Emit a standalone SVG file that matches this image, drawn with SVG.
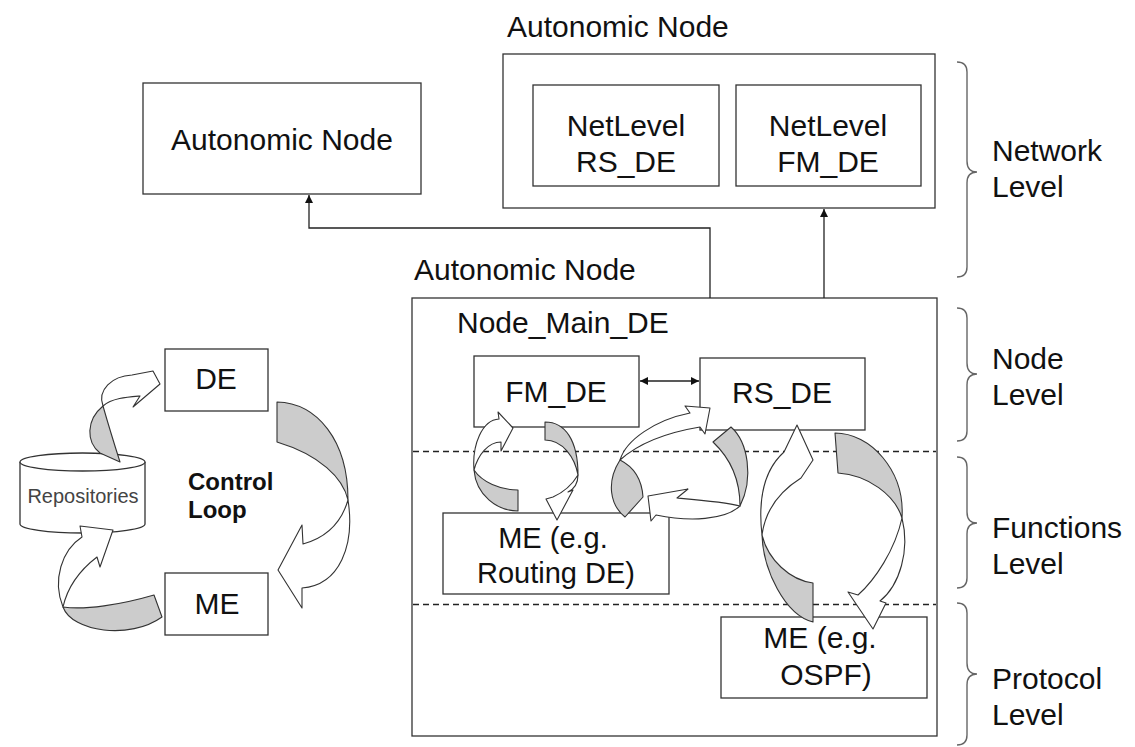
<svg xmlns="http://www.w3.org/2000/svg" width="1135" height="747" viewBox="0 0 1135 747">
<defs>
<style>
.box{fill:#fff;stroke:#333;stroke-width:1.3}
.t{font-family:"Liberation Sans",Arial,sans-serif;font-size:30px;fill:#111}
.tc{text-anchor:middle}
.ts{font-size:29px}
.rep{font-family:"Liberation Sans",Arial,sans-serif;font-size:20px;fill:#444;text-anchor:middle}
.cl{font-family:"Liberation Sans",Arial,sans-serif;font-size:24px;font-weight:bold;fill:#111}
.g{fill:#cccccc;stroke:#333;stroke-width:1.1;stroke-linejoin:round}
.w{fill:#fff;stroke:#333;stroke-width:1.1;stroke-linejoin:round}
.conn{fill:none;stroke:#222;stroke-width:1.3}
.dash{fill:none;stroke:#222;stroke-width:1.3;stroke-dasharray:6 4}
.brace{fill:none;stroke:#666;stroke-width:1.4}
</style>
<marker id="ah" viewBox="0 0 10 10" refX="10" refY="5" markerWidth="9" markerHeight="8" markerUnits="userSpaceOnUse" orient="auto-start-reverse">
<path d="M0,0 L10,5 L0,10 z" fill="#111"/>
</marker>
</defs>
<rect width="1135" height="747" fill="#fff"/>

<g id="node-autonomic-left">
<rect class="box" x="143" y="83" width="278" height="111"/>
<text class="t tc" x="282" y="150">Autonomic Node</text>
</g>

<g id="node-autonomic-top">
<text class="t" x="507" y="37">Autonomic Node</text>
<rect class="box" x="503" y="54" width="432" height="154"/>
</g>
<g id="node-netlevel-rs">
<rect class="box" x="533" y="85" width="186" height="101"/>
<text class="t tc" x="626" y="136">NetLevel</text>
<text class="t tc" x="626" y="172">RS_DE</text>
</g>
<g id="node-netlevel-fm">
<rect class="box" x="736" y="85" width="185" height="101"/>
<text class="t tc" x="828" y="136">NetLevel</text>
<text class="t tc" x="828" y="172">FM_DE</text>
</g>

<g id="node-autonomic-main">
<text class="t" x="414" y="280">Autonomic Node</text>
<rect class="box" x="412" y="298" width="525" height="438"/>
<text class="t" x="457" y="333">Node_Main_DE</text>
<line class="dash" x1="413" y1="451.5" x2="936" y2="451.5"/>
<line class="dash" x1="413" y1="604.5" x2="936" y2="604.5"/>
</g>
<g id="node-fm-de">
<rect class="box" x="474" y="356" width="165" height="71"/>
<text class="t tc" x="556" y="402">FM_DE</text>
</g>
<g id="node-rs-de">
<rect class="box" x="700" y="358" width="165" height="72"/>
<text class="t tc" x="782" y="403">RS_DE</text>
</g>
<g id="node-me-routing">
<rect class="box" x="443" y="513" width="226" height="81"/>
<text class="t tc ts" x="553" y="548">ME (e.g.</text>
<text class="t tc ts" x="556" y="583">Routing DE)</text>
</g>
<g id="node-me-ospf">
<rect class="box" x="721" y="617" width="206" height="81"/>
<text class="t tc" x="820" y="648">ME (e.g.</text>
<text class="t tc" x="826" y="685">OSPF)</text>
</g>

<g id="node-de">
<rect class="box" x="165" y="349" width="103" height="62"/>
<text class="t tc" x="216" y="389">DE</text>
</g>
<g id="node-me">
<rect class="box" x="165" y="573" width="103" height="62"/>
<text class="t tc" x="217" y="614">ME</text>
</g>
<g id="node-repositories">
<path class="box" d="M20,462 L20,524 A62.5,9 0 0 0 145,524 L145,462"/>
<ellipse class="box" cx="82.5" cy="462" rx="62.5" ry="9"/>
<text class="rep" x="83" y="503">Repositories</text>
</g>
<g id="label-control-loop">
<text class="cl" x="188" y="490">Control</text>
<text class="cl" x="188" y="518">Loop</text>
</g>

<g id="connectors">
<polyline class="conn" points="710,298 710,228 309,228 309,195" marker-end="url(#ah)"/>
<line class="conn" x1="824" y1="298" x2="824" y2="209" marker-end="url(#ah)"/>
<line class="conn" x1="640" y1="381" x2="699" y2="381" marker-start="url(#ah)" marker-end="url(#ah)"/>
</g>

<g id="loop-arrows">
<!-- left control loop -->
<path class="g" d="M103,406 C86,420 86,442 100,453 L120,462 C113,440 107,420 103,406 Z"/>
<path class="w" d="M103,406 C97,390 112,376 132,375 L153,371 L160,384 L133,407 L140,396 C128,397 112,398 103,406 Z"/>
<path class="g" d="M277,402 C317,403 348,440 348,500 C343,478 320,455 277,442 Z"/>
<path class="w" d="M348,500 C355,545 340,585 302,588 L302,608 L278,570 L302,525 L303,544 C325,538 341,524 348,500 Z"/>
<path class="g" d="M63,607 C72,632 130,640 162,617 L154,595 C120,605 85,610 63,607 Z"/>
<path class="w" d="M63,607 C52,580 62,550 82,537 L80,526 L113,530 L100,567 L97,557 C80,570 68,585 63,607 Z"/>
<!-- FM_DE / ME routing loop -->
<path class="g" d="M474,470 C476,495 497,511 518,511 L518,490 C500,490 482,482 474,470 Z"/>
<path class="w" d="M474,470 C472,445 482,420 499,419 L498,412 L513,428 L501,451 L501,442 C488,442 478,455 474,470 Z"/>
<path class="g" d="M545,422 C565,422 578,440 578,475 C575,458 563,440 545,440 Z"/>
<path class="w" d="M578,475 C578,483 574,489 568,492 L573,490 L557,520 L546,499 L553,497 C562,493 572,485 578,475 Z"/>
<!-- RS_DE / ME routing loop -->
<path class="g" d="M620,460 C606,482 610,505 625,517 L643,497 C642,482 636,468 620,460 Z"/>
<path class="w" d="M620,460 C626,440 655,420 690,413 L685,406 L710,408 L705,434 L700,427 C670,432 640,442 620,460 Z"/>
<path class="g" d="M713,442 L731,427 C748,442 754,478 740,506 C740,480 730,458 713,442 Z"/>
<path class="w" d="M740,506 C725,520 690,522 656,515 L651,521 L648,496 L688,489 L677,498 C700,500 725,502 740,506 Z"/>
<!-- RS_DE / ME OSPF loop -->
<path class="g" d="M762,535 C763,570 785,615 813,622 L813,583 C790,580 768,560 762,535 Z"/>
<path class="w" d="M762,535 C758,500 764,470 784,452 L797,425 L813,460 L801,478 C785,488 766,505 762,535 Z"/>
<path class="g" d="M835,433 C870,433 905,470 902,518 C895,495 868,475 838,473 Z"/>
<path class="w" d="M902,518 C910,550 900,585 880,601 L886,603 L873,629 L848,592 L858,595 C875,580 895,550 902,518 Z"/>
</g>

<g id="level-labels">
<path class="brace" d="M957,62 Q967,62 967,72 L967,161 Q967,172 977,172 Q967,172 967,183 L967,267 Q967,277 957,277"/>
<text class="t" x="992" y="161">Network</text>
<text class="t" x="992" y="197">Level</text>
<path class="brace" d="M957,308 Q967,308 967,318 L967,363 Q967,374 977,374 Q967,374 967,385 L967,431 Q967,441 957,441"/>
<text class="t" x="992" y="369">Node</text>
<text class="t" x="992" y="405">Level</text>
<path class="brace" d="M957,457 Q967,457 967,467 L967,512 Q967,523 977,523 Q967,523 967,534 L967,578 Q967,588 957,588"/>
<text class="t" x="992" y="538">Functions</text>
<text class="t" x="992" y="574">Level</text>
<path class="brace" d="M957,603 Q967,603 967,613 L967,663 Q967,674 977,674 Q967,674 967,685 L967,735 Q967,745 957,745"/>
<text class="t" x="992" y="689">Protocol</text>
<text class="t" x="992" y="725">Level</text>
</g>
</svg>
